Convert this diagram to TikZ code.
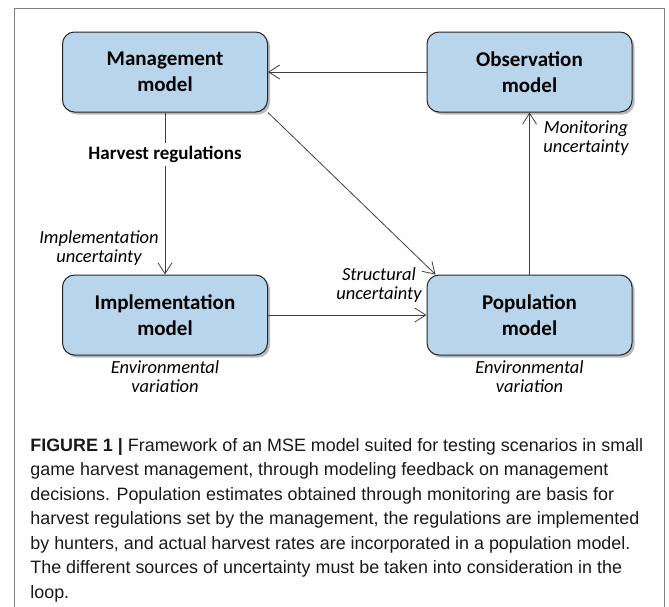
\documentclass[tikz,border=0pt]{standalone}
\usepackage{fontspec}
\setmainfont{Liberation Sans}
\newfontfamily\boxfont{Carlito}
\usetikzlibrary{positioning,arrows.meta,shadows}
\definecolor{boxblue}{HTML}{B9D5EC}

\begin{document}
\begin{tikzpicture}[x=1pt,y=-1pt,->,>={Straight Barb[length=11pt,width=14pt]},
                line width=0.8pt, draw=black!75, node distance=243pt,
                model/.style={draw=black!85, fill=boxblue, rounded corners=12pt,
                  minimum width=205pt, minimum height=80pt, align=center, text=black,
                  line width=1pt, font=\boxfont\bfseries\fontsize{21}{26}\selectfont,
                  drop shadow={shadow xshift=2.5pt, shadow yshift=-2.5pt, fill=black!55}},
                note/.style={align=center, text=black,
                  font=\boxfont\itshape\fontsize{18.5}{19.5}\selectfont}]

\useasboundingbox (0,0) rectangle (669,606);
\draw[-,black!50,line width=1pt] (14,620) -- (14,8) -- (664,8) -- (664,620);

\node[model] (M) at (165,72)                            {Management\\model};
\node[model] (O) [right of=M, node distance=364.5pt]    {Observation\\model};
\node[model] (I) [below of=M]                           {Implementation\\model};
\node[model] (P) [right of=I, node distance=364.5pt]    {Population\\model};

  \path (O) edge (M)
        (M) edge node [pos=0.26, fill=white, inner sep=3pt, text=black,
                       font=\boxfont\bfseries\fontsize{19}{22}\selectfont] {Harvest regulations} (I)
        (M.south east) edge ([xshift=9pt]P.north west)
        (I) edge (P)
        (P) edge (O)
        ;

\node[note] (iu) at (99,248)  {Implementation\\uncertainty};
\node[note] (su) at (379,285) {Structural\\uncertainty};
\node[note] (mu) at (586,138) {Monitoring\\uncertainty};
\node[note] (ie) [below=1pt of I] {Environmental\\variation};
\node[note] (pe) [below=1pt of P] {Environmental\\variation};

% caption: base anchor sits on the last line
\node[anchor=base west, align=left, inner sep=0pt, text=black!90,
      font=\fontsize{17.9}{24.5}\selectfont] (caption) at (30,598)
{\textbf{FIGURE 1 |} Framework of an MSE model suited for testing scenarios in small\\
game harvest management, through modeling feedback on management\\
decisions. Population estimates obtained through monitoring are basis for\\
harvest regulations set by the management, the regulations are implemented\\
by hunters, and actual harvest rates are incorporated in a population model.\\
The different sources of uncertainty must be taken into consideration in the\\
loop.};
\end{tikzpicture}
\end{document}
